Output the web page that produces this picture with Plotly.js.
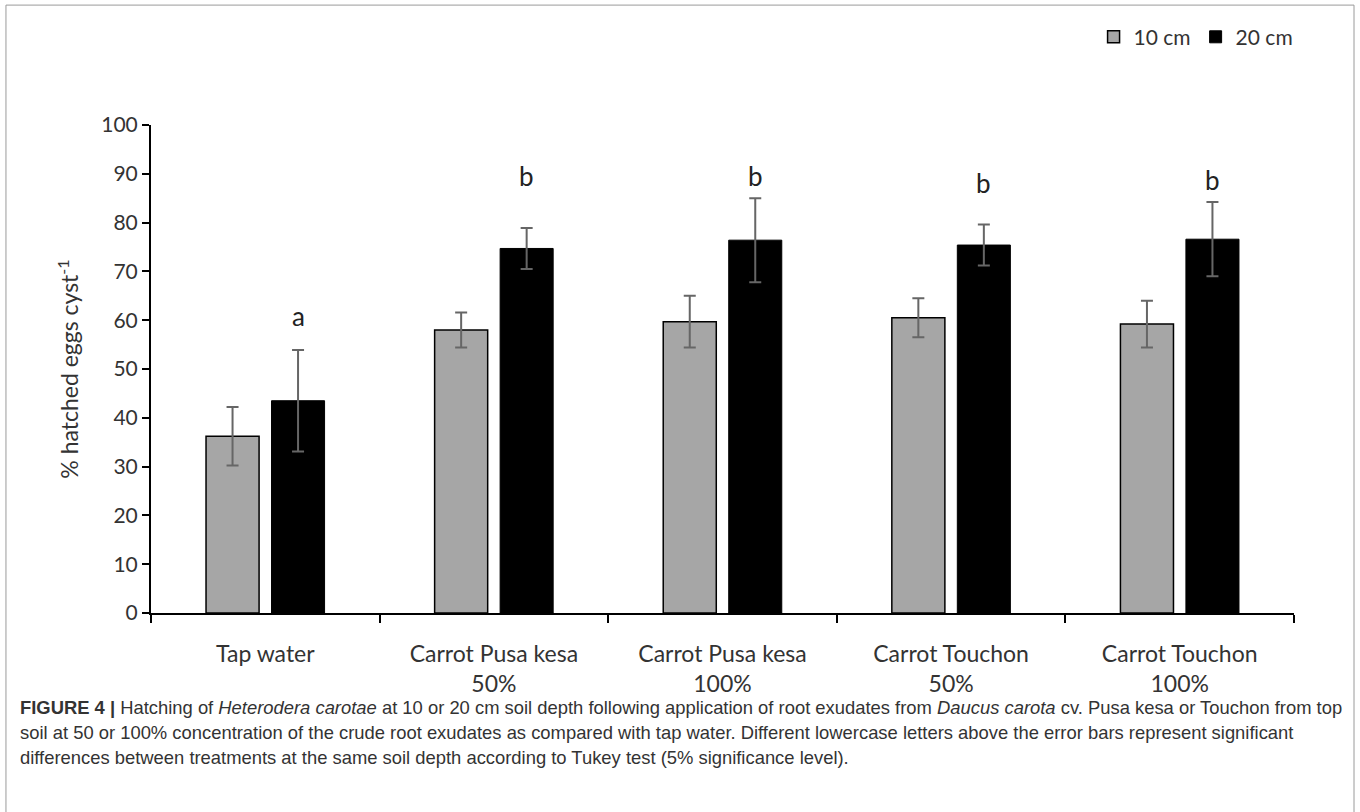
<!DOCTYPE html>
<html>
<head>
<meta charset="utf-8">
<script src="https://cdn.plot.ly/plotly-3.0.1.min.js"></script>
<style>
  html, body { margin: 0; padding: 0; background: #fff; }
  #chart { width: 1360px; height: 812px; }
</style>
</head>
<body>
<div id="chart"></div>
<script>
// ---- data ----
const categories = [
  "Tap water",
  "Carrot Pusa kesa<br>50%",
  "Carrot Pusa kesa<br>100%",
  "Carrot Touchon<br>50%",
  "Carrot Touchon<br>100%"
];
const series10Name = "10 cm";
const series20Name = "20 cm";
const values10 = [36.2, 58.0, 59.7, 60.5, 59.2];
const errors10 = [6.0, 3.6, 5.3, 4.0, 4.8];
const values20 = [43.5, 74.7, 76.4, 75.4, 76.6];
const errors20 = [10.4, 4.2, 8.6, 4.2, 7.6];
const letters = ["a", "b", "b", "b", "b"];
const letterHeights = [60.8, 89.6, 89.6, 88.1, 88.7];
const yTitle = "% hatched eggs cyst<sup>-1</sup>";
const captionLines = [
  "<b>FIGURE 4 |</b> Hatching of <i>Heterodera carotae</i> at 10 or 20 cm soil depth following application of root exudates from <i>Daucus carota</i> cv. Pusa kesa or Touchon from top",
  "soil at 50 or 100% concentration of the crude root exudates as compared with tap water. Different lowercase letters above the error bars represent significant",
  "differences between treatments at the same soil depth according to Tukey test (5% significance level)."
];

// ---- chart ----
const axisFont = "Lato, 'Open Sans', sans-serif";
const textColor = "#333333";

const trace10 = {
  type: "bar", name: series10Name, x: categories, y: values10,
  marker: { color: "#A6A6A6", line: { color: "#000000", width: 1.5 } },
  error_y: { type: "data", array: errors10, visible: true, color: "#666666", thickness: 2, width: 6 }
};
const trace20 = {
  type: "bar", name: series20Name, x: categories, y: values20,
  marker: { color: "#000000", line: { color: "#000000", width: 1 } },
  error_y: { type: "data", array: errors20, visible: true, color: "#666666", thickness: 2, width: 6 }
};

const annotations = letters.map((t, i) => ({
  x: categories[i], y: letterHeights[i], xref: "x", yref: "y",
  text: t, showarrow: false, xshift: 32.7, yanchor: "middle",
  font: { family: axisFont, size: 26, color: "#222222" }
}));

const capY = [-0.1939, -0.2451, -0.2963];
captionLines.forEach((t, i) => {
  annotations.push({
    x: -0.1164, y: capY[i], xref: "paper", yref: "paper",
    xanchor: "left", yanchor: "middle", align: "left",
    text: t, showarrow: false,
    font: { family: "'Liberation Sans', Arial, sans-serif", size: 18.4, color: "#333333" }
  });
});

const layout = {
  width: 1360, height: 812,
  margin: { l: 151, r: 66, t: 125, b: 198.7 },
  paper_bgcolor: "#ffffff", plot_bgcolor: "#ffffff",
  barmode: "group", bargap: 0.427, bargroupgap: 0.19,
  showlegend: true,
  legend: {
    orientation: "h", x: 1.004, xanchor: "right", y: 1.18, yanchor: "middle",
    font: { family: axisFont, size: 21, color: textColor },
    traceorder: "normal", itemwidth: 30
  },
  xaxis: {
    type: "category", range: [-0.5, 4.5],
    showline: true, linecolor: "#000000", linewidth: 2,
    ticks: "outside", tickson: "boundaries", ticklen: 8, tickwidth: 2, tickcolor: "#000000",
    ticklabelstandoff: 19,
    showgrid: false, zeroline: false,
    tickfont: { family: axisFont, size: 23, color: textColor }
  },
  yaxis: {
    range: [0, 100], dtick: 10,
    showline: true, linecolor: "#000000", linewidth: 2,
    ticks: "outside", ticklen: 7, tickwidth: 2, tickcolor: "#000000",
    showgrid: false, zeroline: false,
    tickfont: { family: axisFont, size: 21, color: textColor },
    title: { text: yTitle, font: { family: axisFont, size: 23, color: textColor }, standoff: 16 }
  },
  annotations: annotations,
  shapes: [{
    type: "rect", xref: "paper", yref: "paper",
    x0: -0.1269, x1: 1.0525, y0: -0.42, y1: 1.2457,
    line: { color: "#9a9a9a", width: 1 }, fillcolor: "rgba(0,0,0,0)", layer: "below"
  }]
};

Plotly.newPlot("chart", [trace10, trace20], layout, { staticPlot: true, displayModeBar: false });
</script>
</body>
</html>
